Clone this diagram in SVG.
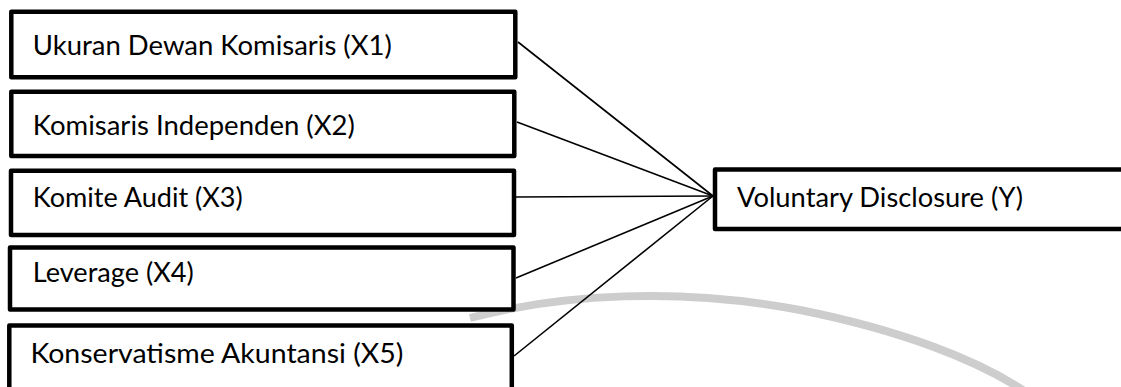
<svg xmlns="http://www.w3.org/2000/svg" width="1121" height="387" viewBox="0 0 1121 387">
<style>
.box{fill:#fff;stroke:#000;stroke-width:4.5;stroke-linejoin:round}
.lbl{font-family:Lato,"Open Sans","Liberation Sans",sans-serif;font-size:26px;fill:#000}
.con{stroke:#000;stroke-width:1.6;fill:none}
.wm{fill:none;stroke:#cdcdcd;stroke-width:8}
</style>
<g id="watermark">
<path class="wm" d="M470,318 C560,294 680,287 800,310 C900,330 980,360 1030,395"/>
</g>
<g id="connectors">
<line class="con" x1="518" y1="42" x2="713" y2="196"/>
<line class="con" x1="517" y1="122" x2="713" y2="196"/>
<line class="con" x1="516" y1="197" x2="713" y2="196"/>
<line class="con" x1="516" y1="278" x2="713" y2="196"/>
<line class="con" x1="514" y1="356" x2="713" y2="196"/>
</g>
<g id="x1">
<rect class="box" x="11.3" y="11.8" width="504" height="65.4"/>
<text class="lbl" x="32.8" y="55" textLength="359" lengthAdjust="spacingAndGlyphs">Ukuran Dewan Komisaris (X1)</text>
</g>
<g id="x2">
<rect class="box" x="11.3" y="91.8" width="503" height="64.2"/>
<text class="lbl" x="32.8" y="135" textLength="322" lengthAdjust="spacingAndGlyphs">Komisaris Independen (X2)</text>
</g>
<g id="x3">
<rect class="box" x="11" y="170.8" width="503" height="64.2"/>
<text class="lbl" x="32.8" y="207" textLength="210" lengthAdjust="spacingAndGlyphs">Komite Audit (X3)</text>
</g>
<g id="x4">
<rect class="box" x="10" y="247.5" width="503.5" height="62"/>
<text class="lbl" x="32.8" y="282" textLength="161" lengthAdjust="spacingAndGlyphs">Leverage (X4)</text>
</g>
<g id="x5">
<rect class="box" x="9.3" y="325.5" width="502.5" height="66"/>
<text class="lbl" x="30.4" y="363" textLength="373" lengthAdjust="spacingAndGlyphs">Konservatisme Akuntansi (X5)</text>
</g>
<g id="y">
<rect class="box" x="715" y="169.5" width="420" height="59.5"/>
<text class="lbl" x="737" y="207" textLength="286" lengthAdjust="spacingAndGlyphs">Voluntary Disclosure (Y)</text>
</g>
</svg>
